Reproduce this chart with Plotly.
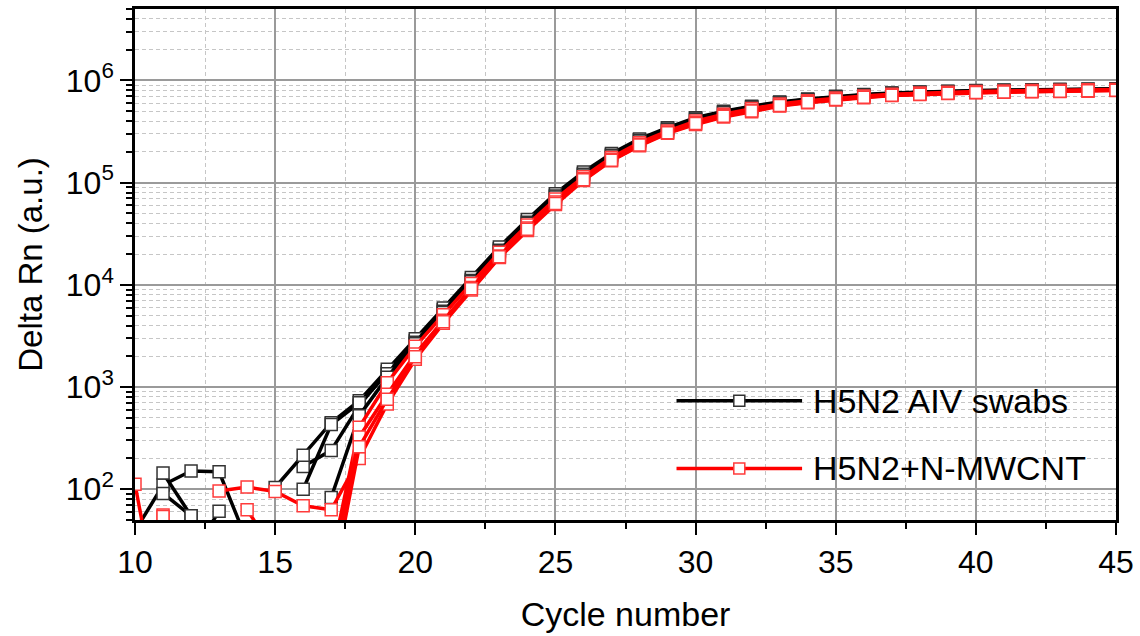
import math
import plotly.graph_objects as go

# ---------------- data ----------------
cycles = list(range(10, 46))

# H5N2 AIV swabs (black) replicates; None = value not plottable on log axis
swab_1 = [39, 110, 151, 148, 31, None, 167, 240,
          660, 1400, 2850, 5700, 11300, 22500, 42000, 75500, 123000, 188000, 262000, 338000,
          424000, 492000, 552000, 607000, 652000, 692000, 722000, 748000, 765000, 778000,
          789000, 798000, 806000, 812000, 817000, 822000]
swab_2 = [None, 144, 55, None, None, 104, 215, 448,
          735, 1490, 2960, 5920, 11800, 23500, 43500, 78000, 127000, 193000, 268000, 345000,
          432000, 500000, 560000, 615000, 660000, 700000, 730000, 755000, 772000, 785000,
          795000, 805000, 812000, 818000, 823000, 828000]
swab_3 = [None, 91, 55, None, None, None, 100, 430,
          700, 1350, 2750, 5500, 11000, 21800, 41000, 74000, 121000, 185000, 258000, 334000,
          420000, 488000, 548000, 602000, 648000, 688000, 718000, 744000, 761000, 775000,
          786000, 795000, 803000, 809000, 814000, 819000]
swab_4 = [None, None, 22, 61, None, None, None, 83,
          525, 1250, 2650, 5350, 10700, 21300, 40000, 72500, 119000, 182000, 255000, 330000,
          415000, 483000, 543000, 597000, 643000, 683000, 713000, 739000, 757000, 771000,
          782000, 791000, 799000, 805000, 810000, 815000]

# H5N2 + N-MWCNT (red) replicates
cnt_1 = [112, 4, None, None, None, None, None, 20,
         405, 1100, 2500, 5100, 10300, 20800, 38500, 69000, 114000, 176000, 246000, 320000,
         400000, 468000, 530000, 587000, 632000, 672000, 705000, 733000, 752000, 766000,
         778000, 788000, 796000, 803000, 809000, 815000]
cnt_2 = [None, 56, None, 96, 105, 95, 69, 63,
         200, 683, 1870, 4200, 8900, 18500, 34000, 61000, 105000, 164000, 229000, 304000,
         371000, 439000, 494000, 561000, 604000, 643000, 677000, 712000, 728000, 745000,
         756000, 768000, 773000, 778000, 785000, 796000]
cnt_3 = [None, 54, None, None, 63, 24, None, 15,
         325, 850, 2100, 4500, 9400, 19200, 36000, 64500, 109000, 169000, 237000, 311000,
         385000, 452000, 512000, 573000, 618000, 657000, 690000, 722000, 740000, 755000,
         767000, 777000, 784000, 790000, 797000, 805000]
cnt_4 = [None, None, None, None, None, None, None, 10,
         260, 760, 1980, 4350, 9150, 18800, 35000, 62500, 107000, 166000, 233000, 307000,
         378000, 445000, 503000, 567000, 611000, 650000, 683000, 717000, 734000, 750000,
         762000, 772000, 779000, 784000, 791000, 800000]

swab_series = [swab_1, swab_2, swab_3, swab_4]
cnt_series = [cnt_1, cnt_2, cnt_3, cnt_4]

legend_labels = ["H5N2 AIV swabs", "H5N2+N-MWCNT"]
x_ticks = [10, 15, 20, 25, 30, 35, 40, 45]
y_ticks = [1e2, 1e3, 1e4, 1e5, 1e6]
y_ticktext = ["10<sup>2</sup>", "10<sup>3</sup>", "10<sup>4</sup>", "10<sup>5</sup>", "10<sup>6</sup>"]
y_minor = [m * 10 ** e for e in range(1, 7) for m in range(2, 10)]

# ---------------- styles ----------------
FONT = "Liberation Sans, Arial, sans-serif"
BLACK_LINE = "#000000"
BLACK_MARK = "#333333"
RED_LINE = "#ff0000"
RED_MARK = "#ff3b3b"
MAJOR_GRID = "#9a9a9a"
MINOR_GRID = "#c6c6c6"
DASH = "4px,3px"

fig = go.Figure()

for s in swab_series:
    fig.add_trace(go.Scatter(
        x=cycles, y=s, mode="lines+markers", connectgaps=False,
        line=dict(color=BLACK_LINE, width=3.5),
        marker=dict(symbol="square", size=12, color="white",
                    line=dict(color=BLACK_MARK, width=1.5)),
        showlegend=False, hoverinfo="skip"))

for s in cnt_series:
    fig.add_trace(go.Scatter(
        x=cycles, y=s, mode="lines+markers", connectgaps=False,
        line=dict(color=RED_LINE, width=3.5),
        marker=dict(symbol="square", size=12, color="white",
                    line=dict(color=RED_MARK, width=1.5)),
        showlegend=False, hoverinfo="skip"))

# ---------------- custom legend ----------------
legend_items = [(legend_labels[0], BLACK_LINE, BLACK_MARK, 0.2335),
                (legend_labels[1], RED_LINE, RED_MARK, 0.101)]
lx0, lx1, lmx, ltx = 0.552, 0.680, 0.616, 0.689
shapes = []
annotations = []
for label, lc, mc, ly in legend_items:
    shapes.append(dict(type="line", xref="paper", yref="paper", x0=lx0, x1=lx1, y0=ly, y1=ly,
                       line=dict(color=lc, width=3.5)))
    shapes.append(dict(type="rect", xref="paper", yref="paper",
                       xsizemode="pixel", ysizemode="pixel",
                       xanchor=lmx, yanchor=ly, x0=-5.5, x1=5.5, y0=-5.5, y1=5.5,
                       fillcolor="white", line=dict(color=mc, width=1.5)))
    annotations.append(dict(xref="paper", yref="paper", x=ltx, y=ly, text=label,
                            showarrow=False, xanchor="left", yanchor="middle",
                            font=dict(family=FONT, size=34, color="black")))

fig.update_layout(
    width=1140, height=636,
    margin=dict(l=135, r=23, t=6, b=116),
    paper_bgcolor="white", plot_bgcolor="white",
    font=dict(family=FONT, size=31, color="black"),
    shapes=shapes, annotations=annotations,
    showlegend=False,
)

fig.update_xaxes(
    range=[10, 45], tickvals=x_ticks, ticks="outside", ticklen=12, tickwidth=2,
    tickcolor="black", tickfont=dict(family=FONT, size=32),
    showline=True, linewidth=2.5, linecolor="black", mirror=True,
    showgrid=True, gridcolor=MAJOR_GRID, gridwidth=2, zeroline=False,
    minor=dict(dtick=2.5, tick0=10, ticks="outside", ticklen=6, tickwidth=2, tickcolor="black",
               showgrid=True, gridcolor=MINOR_GRID, gridwidth=1, griddash=DASH),
    title=dict(text="Cycle number", font=dict(family=FONT, size=34), standoff=24),
)

fig.update_yaxes(
    type="log", range=[math.log10(50), math.log10(5e6)],
    tickmode="array", tickvals=y_ticks, ticktext=y_ticktext,
    ticks="outside", ticklen=12, tickwidth=2, tickcolor="black",
    tickfont=dict(family=FONT, size=32),
    showline=True, linewidth=2.5, linecolor="black", mirror=True,
    showgrid=True, gridcolor=MAJOR_GRID, gridwidth=2, zeroline=False,
    minor=dict(tickmode="array", tickvals=y_minor, ticks="outside", ticklen=6, tickwidth=1.5,
               tickcolor="black", showgrid=True, gridcolor=MINOR_GRID, gridwidth=1,
               griddash=DASH),
    title=dict(text="Delta Rn (a.u.)", font=dict(family=FONT, size=33), standoff=14),
)

fig.write_html("out.html")
